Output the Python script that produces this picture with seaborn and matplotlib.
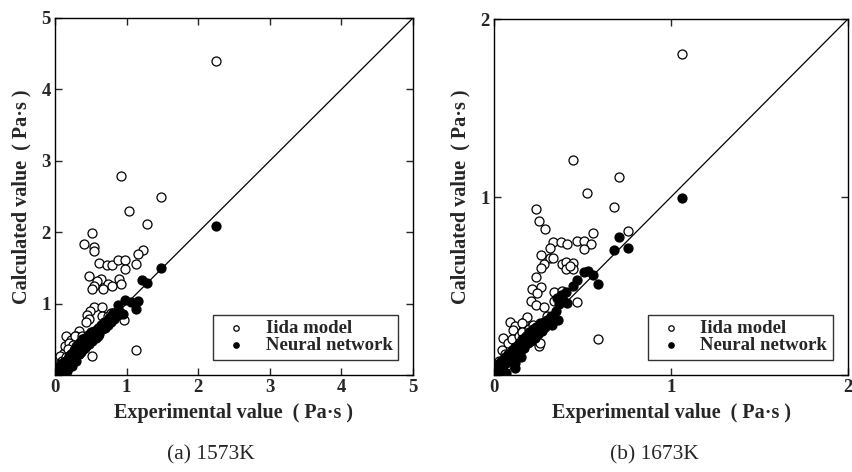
import numpy as np
import pandas as pd
import matplotlib
matplotlib.use("Agg")
import matplotlib.pyplot as plt
import seaborn as sns

# ---------------- data ----------------
# (a) 1573K
iida_a_x = [2.25, 0.92, 1.48, 1.03, 1.28, 0.52, 0.41, 0.55, 0.55, 1.23, 1.16, 1.13, 0.61, 0.73, 0.80,
            0.88, 0.98, 0.98, 0.48, 0.64, 0.58, 0.90, 0.92, 0.74, 0.80, 0.54, 0.51, 0.67, 1.13, 0.54,
            0.66, 0.49, 0.44, 0.47, 0.43, 0.65, 0.74, 0.96, 0.34, 0.16, 0.22, 0.30, 0.51,
            0.12, 0.07, 0.14, 0.28, 0.20, 0.25, 0.18, 0.10, 0.05, 0.08, 0.15, 0.22, 0.30, 0.35,
            0.38, 0.40, 0.26, 0.33, 0.45, 0.60, 0.55, 0.68, 0.78, 0.03, 0.12, 0.20, 0.42, 0.36]
iida_a_y = [4.40, 2.79, 2.50, 2.29, 2.11, 1.99, 1.84, 1.79, 1.73, 1.75, 1.69, 1.55, 1.57, 1.54, 1.54,
            1.61, 1.61, 1.49, 1.38, 1.34, 1.31, 1.34, 1.28, 1.27, 1.24, 1.25, 1.20, 1.21, 0.35, 0.95,
            0.95, 0.90, 0.84, 0.78, 0.74, 0.82, 0.82, 0.77, 0.62, 0.55, 0.49, 0.54, 0.27,
            0.31, 0.26, 0.40, 0.54, 0.45, 0.42, 0.36, 0.20, 0.15, 0.12, 0.25, 0.30, 0.40, 0.45,
            0.55, 0.50, 0.35, 0.30, 0.45, 0.55, 0.60, 0.72, 0.87, 0.10, 0.18, 0.22, 0.38, 0.33]
nn_a_x = [2.25, 1.48, 1.22, 1.28, 1.16, 1.06, 0.98, 1.13, 0.88, 0.95, 0.81,
          0.02, 0.04, 0.05, 0.06, 0.08, 0.09, 0.10, 0.11, 0.12, 0.13, 0.14, 0.15, 0.16, 0.17, 0.18,
          0.19, 0.20, 0.21, 0.22, 0.23, 0.24, 0.25, 0.26, 0.27, 0.28, 0.29, 0.30, 0.31, 0.32, 0.33,
          0.34, 0.35, 0.36, 0.37, 0.38, 0.39, 0.40, 0.42, 0.43, 0.44, 0.46, 0.47, 0.48, 0.50, 0.52,
          0.53, 0.55, 0.57, 0.58, 0.60, 0.62, 0.64, 0.66, 0.68, 0.70, 0.72, 0.74, 0.76, 0.78, 0.80,
          0.83, 0.85, 0.88, 0.90, 0.03, 0.07, 0.12, 0.18, 0.24, 0.30]
nn_a_y = [2.08, 1.50, 1.33, 1.29, 1.04, 1.02, 1.05, 0.93, 0.98, 0.86, 0.87,
          0.07, 0.10, 0.05, 0.13, 0.08, 0.15, 0.11, 0.05, 0.18, 0.12, 0.09, 0.20, 0.14, 0.05, 0.22,
          0.16, 0.27, 0.12, 0.20, 0.30, 0.17, 0.25, 0.34, 0.21, 0.30, 0.38, 0.26, 0.33, 0.42, 0.29,
          0.37, 0.46, 0.32, 0.41, 0.50, 0.36, 0.44, 0.52, 0.40, 0.48, 0.56, 0.44, 0.52, 0.60, 0.48,
          0.56, 0.62, 0.52, 0.60, 0.66, 0.57, 0.70, 0.64, 0.74, 0.66, 0.76, 0.70, 0.80, 0.74, 0.84,
          0.78, 0.88, 0.84, 0.90, 0.03, 0.04, 0.08, 0.10, 0.13, 0.20]

# (b) 1673K
iida_b_x = [1.06, 0.446, 0.708, 0.525, 0.678, 0.235, 0.254, 0.286, 0.557, 0.759, 0.335, 0.377, 0.414,
            0.467, 0.507, 0.548, 0.507, 0.315, 0.266, 0.315, 0.335, 0.284, 0.267, 0.386, 0.407, 0.448,
            0.407, 0.448, 0.427, 0.235, 0.266, 0.213, 0.245, 0.339, 0.211, 0.239, 0.337, 0.384, 0.471,
            0.588, 0.092, 0.119, 0.171, 0.185, 0.256,
            0.156, 0.109, 0.053, 0.043, 0.256, 0.26, 0.03, 0.06, 0.08, 0.10, 0.12, 0.14, 0.16, 0.18,
            0.20, 0.22, 0.07, 0.02, 0.13, 0.30, 0.28]
iida_b_y = [1.805, 1.208, 1.11, 1.02, 0.946, 0.931, 0.863, 0.818, 0.796, 0.807, 0.749, 0.745, 0.736,
            0.755, 0.755, 0.734, 0.706, 0.712, 0.676, 0.655, 0.659, 0.622, 0.599, 0.622, 0.637, 0.627,
            0.596, 0.597, 0.614, 0.549, 0.496, 0.481, 0.462, 0.465, 0.416, 0.393, 0.416, 0.474, 0.408,
            0.202, 0.298, 0.275, 0.300, 0.324, 0.165,
            0.29, 0.253, 0.206, 0.14, 0.271, 0.18, 0.08, 0.12, 0.18, 0.20, 0.16, 0.22, 0.24, 0.20,
            0.26, 0.28, 0.05, 0.04, 0.10, 0.33, 0.38]
nn_b_x = [1.06, 0.708, 0.759, 0.678, 0.507, 0.529, 0.557, 0.588, 0.467, 0.448, 0.407, 0.410, 0.354,
          0.01, 0.02, 0.03, 0.04, 0.05, 0.06, 0.07, 0.08, 0.09, 0.10, 0.11, 0.12, 0.13, 0.14, 0.15,
          0.16, 0.17, 0.18, 0.19, 0.20, 0.21, 0.22, 0.23, 0.24, 0.25, 0.26, 0.27, 0.28, 0.29, 0.30,
          0.32, 0.33, 0.35, 0.37, 0.39, 0.36, 0.38, 0.12, 0.07, 0.15, 0.119]
nn_b_y = [0.994, 0.774, 0.715, 0.704, 0.577, 0.584, 0.562, 0.511, 0.534, 0.500, 0.465, 0.403, 0.434,
          0.03, 0.06, 0.02, 0.08, 0.05, 0.10, 0.07, 0.12, 0.09, 0.14, 0.10, 0.16, 0.12, 0.18, 0.14,
          0.20, 0.15, 0.22, 0.18, 0.24, 0.19, 0.26, 0.21, 0.27, 0.23, 0.29, 0.25, 0.30, 0.27, 0.31,
          0.33, 0.28, 0.36, 0.40, 0.42, 0.31, 0.45, 0.07, 0.01, 0.10, 0.04]

panels = [
    dict(iida_x=iida_a_x, iida_y=iida_a_y, nn_x=nn_a_x, nn_y=nn_a_y,
         lim=5, ticks=[0, 1, 2, 3, 4, 5], caption="(a) 1573K"),
    dict(iida_x=iida_b_x, iida_y=iida_b_y, nn_x=nn_b_x, nn_y=nn_b_y,
         lim=2, ticks=[0, 1, 2], caption="(b) 1673K"),
]
legend_labels = ["Iida model", "Neural network"]
xlabel = "Experimental value  ( Pa\u00b7s )"
ylabel = "Calculated value  ( Pa\u00b7s )"

# ---------------- figure ----------------
sns.set_style("ticks")
plt.rcParams["font.family"] = ["Liberation Serif", "DejaVu Serif"]
plt.rcParams["axes.linewidth"] = 1.0

W, H = 852, 472
fig = plt.figure(figsize=(W / 100, H / 100), dpi=100)
fig.patch.set_facecolor("white")

boxes = [(55, 18, 413, 375), (494, 19, 848, 375)]  # left, top, right, bottom in px
cap_x = [211, 654]

for p, (l, t, r, b), cx in zip(panels, boxes, cap_x):
    ax = fig.add_axes([l / W, 1 - b / H, (r - l) / W, (b - t) / H])
    di = pd.DataFrame({"x": p["iida_x"], "y": p["iida_y"]})
    dn = pd.DataFrame({"x": p["nn_x"], "y": p["nn_y"]})
    sns.scatterplot(data=di, x="x", y="y", ax=ax, s=42, marker="o",
                    facecolor="white", edgecolor="black", linewidth=0.9,
                    label=legend_labels[0], zorder=3)
    sns.scatterplot(data=dn, x="x", y="y", ax=ax, s=42, marker="o",
                    color="black", edgecolor="black", linewidth=0.9,
                    label=legend_labels[1], zorder=4)
    ax.axline((0, 0), slope=1, color="black", linewidth=0.9, zorder=2)
    lim = p["lim"]
    ax.set_xlim(0, lim)
    ax.set_ylim(0, lim)
    ax.set_xticks(p["ticks"])
    ax.set_yticks(p["ticks"])
    ax.set_xticklabels([str(v) for v in p["ticks"]])
    ax.set_yticklabels([""] + [str(v) for v in p["ticks"][1:]])
    for lab in ax.get_xticklabels() + ax.get_yticklabels():
        lab.set_fontweight("bold")
        lab.set_fontsize(13.5)
    ax.tick_params(direction="in", top=True, right=True, length=5, width=1, pad=3)
    ax.set_xlabel(xlabel, fontsize=14.5, fontweight="bold", labelpad=5)
    ax.set_ylabel(ylabel, fontsize=14.5, fontweight="bold", labelpad=7)
    for s in ax.spines.values():
        s.set_visible(True)
        s.set_color("black")
        s.set_linewidth(1.0)
    leg = ax.legend(loc="lower right", frameon=True, fancybox=False, markerscale=0.6,
                    prop={"family": "Liberation Serif", "weight": "bold", "size": 13.5},
                    borderpad=0.3, handletextpad=0.7, handlelength=1.8,
                    labelspacing=0.0, borderaxespad=0.8)
    leg.get_frame().set_edgecolor("black")
    leg.get_frame().set_linewidth(1.0)
    fig.text(cx / W, 1 - 455 / H, p["caption"], ha="center", va="center", fontsize=15.5)

fig.savefig("out.png", dpi=100, facecolor="white")
